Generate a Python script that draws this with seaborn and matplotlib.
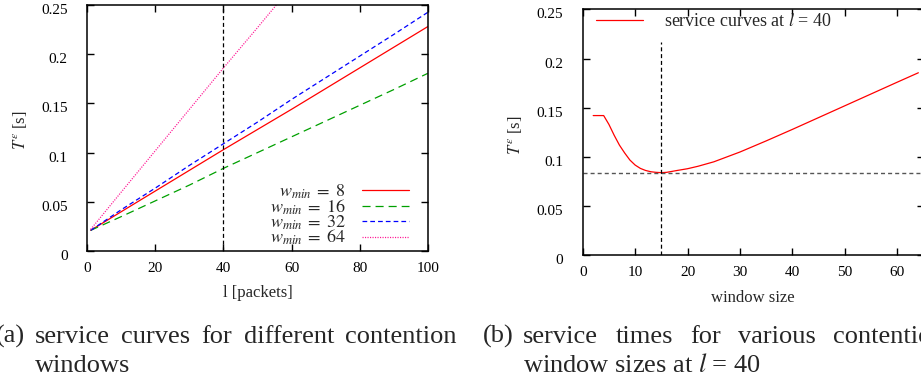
import matplotlib
matplotlib.use("Agg")
import matplotlib.pyplot as plt
import seaborn as sns
import pandas as pd
from matplotlib.transforms import ScaledTranslation

# ---------------- data ----------------
# (a) service curves T^eps over l for different minimum contention windows
l_packets = [1, 10, 20, 30, 40, 50, 60, 70, 80, 90, 100]
t_wmin_8 = [0.021, 0.040, 0.061, 0.082, 0.103, 0.1235, 0.144, 0.165, 0.186, 0.207, 0.228]
t_wmin_16 = [0.021, 0.035, 0.051, 0.067, 0.084, 0.100, 0.116, 0.132, 0.148, 0.164, 0.1805]
t_wmin_32 = [0.021, 0.042, 0.064, 0.087, 0.109, 0.131, 0.154, 0.176, 0.198, 0.220, 0.2425]
l_packets_64 = [1, 10, 20, 30, 40, 50, 56]
t_wmin_64 = [0.022, 0.060, 0.102, 0.144, 0.186, 0.227, 0.252]
series_labels = [r"$w_{min}\;=\;8$", r"$w_{min}\;=\;16$", r"$w_{min}\;=\;32$", r"$w_{min}\;=\;64$"]
ref_l = 40

# (b) service time at l = 40 over window size
window_size = [2, 3, 4, 5, 6, 7, 8, 9, 10, 11, 12, 13, 14, 15, 16, 18, 20, 22, 25,
               30, 35, 40, 45, 50, 55, 60, 64]
t_at_l40 = [0.142, 0.142, 0.142, 0.133, 0.122, 0.112, 0.104, 0.0968, 0.0917, 0.0883,
            0.0862, 0.0849, 0.0843, 0.0840, 0.0843, 0.0862, 0.0880, 0.0905, 0.0950,
            0.105, 0.1163, 0.128, 0.140, 0.152, 0.164, 0.176, 0.1855]
opt_window = 15
opt_time = 0.084
opt_vline_top = 0.217
label_b = r"service curves at $l$ = 40"

yticks = [0, 0.05, 0.1, 0.15, 0.2, 0.25]
ytick_labels = ["0", "0.05", "0.1", "0.15", "0.2", "0.25"]
xticks_a = [0, 20, 40, 60, 80, 100]
xticks_b = [0, 10, 20, 30, 40, 50, 60]

# ---------------- style ----------------
sns.set_theme(style="ticks")
plt.rcParams["font.family"] = ["Liberation Serif", "DejaVu Serif"]
plt.rcParams["mathtext.fontset"] = "stix"
plt.rcParams["lines.scale_dashes"] = False
plt.rcParams["axes.linewidth"] = 1.1
plt.rcParams["axes.edgecolor"] = "black"

W, H = 921, 382
fig = plt.figure(figsize=(W / 100, H / 100), dpi=100)


def px_axes(x0, y0, x1, y1):
    return fig.add_axes([x0 / W, 1 - y1 / H, (x1 - x0) / W, (y1 - y0) / H])


ax1 = px_axes(87.3, 5, 427.7, 251)
ax2 = px_axes(582.7, 9.3, 923.6, 255.3)

LW = 0.9
RED, GREEN, BLUE, PINK = "#ff0000", "#00a000", "#0000ff", "#ff1493"

# ---- (a)
da = pd.DataFrame({"l": l_packets, "w8": t_wmin_8, "w16": t_wmin_16, "w32": t_wmin_32})
d64 = pd.DataFrame({"l": l_packets_64, "w64": t_wmin_64})
sns.lineplot(data=da, x="l", y="w8", ax=ax1, color=RED, lw=LW, label=series_labels[0])
sns.lineplot(data=da, x="l", y="w16", ax=ax1, color=GREEN, lw=LW,
             linestyle=(0, (5.8, 3.6)), label=series_labels[1])
sns.lineplot(data=da, x="l", y="w32", ax=ax1, color=BLUE, lw=LW,
             linestyle=(0, (3.4, 2.2)), label=series_labels[2])
sns.lineplot(data=d64, x="l", y="w64", ax=ax1, color=PINK, lw=LW,
             linestyle=(0, (0.8, 1.0)), label=series_labels[3])
ax1.axvline(ref_l, color="black", lw=0.9, linestyle=(0, (2.9, 2.0)))
ax1.set_xlim(0, 100)
ax1.set_ylim(0, 0.25)
ax1.set_xticks(xticks_a)
ax1.set_xticklabels([str(v) for v in xticks_a])
ax1.set_xlabel("l [packets]", fontsize=12)

leg1 = ax1.legend(loc="lower right", bbox_to_anchor=(0.945, 0.015), frameon=False,
                  markerfirst=False, fontsize=13, handlelength=2.6, handletextpad=0.9,
                  labelspacing=-0.2, borderpad=0, borderaxespad=0)

# ---- (b)
db = pd.DataFrame({"w": window_size, "t": t_at_l40})
sns.lineplot(data=db, x="w", y="t", ax=ax2, color=RED, lw=LW, label=label_b)
ax2.axhline(opt_time, color="#555555", lw=1.0, linestyle=(0, (2.9, 2.2)))
ax2.vlines(opt_window, 0, opt_vline_top, color="black", lw=0.9, linestyles=[(0, (2.9, 2.0))])
ax2.set_xlim(0, 65)
ax2.set_ylim(0, 0.25)
ax2.set_xticks(xticks_b)
ax2.set_xticklabels([str(v) for v in xticks_b])
ax2.set_xlabel("window size", fontsize=12)
leg2 = ax2.legend(loc="upper left", bbox_to_anchor=(0.04, 0.985), frameon=False,
                  fontsize=13, handlelength=2.6, handletextpad=1.15,
                  borderpad=0, borderaxespad=0)

for ax in (ax1, ax2):
    ax.set_yticks(yticks)
    ax.set_yticklabels(ytick_labels)
    ax.set_ylabel(r"$T^{\varepsilon}$ [s]", fontsize=12)
    ax.tick_params(direction="in", top=True, right=True, length=5, width=1.0,
                   labelsize=11, colors="black")
    ax.tick_params(axis="y", pad=14)
    ax.tick_params(axis="x", pad=8)
    for lab in ax.get_yticklabels():
        lab.set_transform(lab.get_transform() + ScaledTranslation(0, -4 / 100, fig.dpi_scale_trans))
    for sp in ax.spines.values():
        sp.set_visible(True)
        sp.set_linewidth(1.1)
    ax.grid(False)

ax1.yaxis.set_label_coords(-0.172, 0.49)
ax2.yaxis.set_label_coords(-0.172, 0.49)
ax1.xaxis.set_label_coords(0.5, -0.14)
ax2.xaxis.set_label_coords(0.5, -0.14)

# ---- captions (justified first lines)
CAP_FS = 19
renderer = fig.canvas.get_renderer()


def justified(words, x0, x1, y_base):
    texts = [fig.text(0, 0, w, fontsize=CAP_FS, va="baseline", ha="left",
                      transform=None) for w in words]
    widths = [t.get_window_extent(renderer).width for t in texts]
    gap = (x1 - x0 - sum(widths)) / (len(words) - 1)
    x = x0
    for t, w in zip(texts, widths):
        t.set_position((x, H - y_base))
        x += w + gap


def plain(s, x0, y_base, ha="left"):
    fig.text(x0 / W, 1 - y_base / H, s, fontsize=CAP_FS, va="baseline", ha=ha)


plain("(a)", 25.3, 343, ha="right")
justified(["service", "curves", "for", "different", "contention"], 35, 456.7, 343)
plain("windows", 35, 371.5)
plain("(b)", 513.3, 343, ha="right")
justified(["service", "times", "for", "various", "contention"], 523, 944.7, 343)
plain(r"window sizes at $l$ = 40", 523, 371.5)

fig.savefig("out.png", dpi=100)
